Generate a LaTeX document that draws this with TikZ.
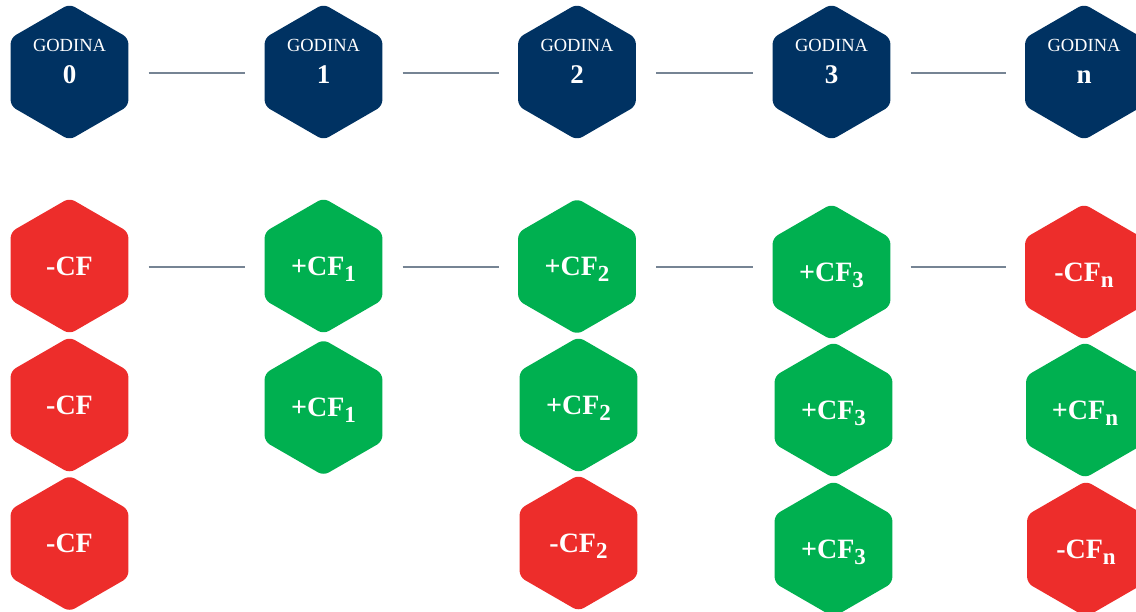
\documentclass[tikz,border=0pt]{standalone}
\usepackage{fontspec}
\setmainfont{Liberation Serif}
\usepackage{tikz}
\usetikzlibrary{shapes, positioning}
\definecolor{navy}{RGB}{0,50,98}
\definecolor{cfred}{RGB}{237,45,43}
\definecolor{cfgreen}{RGB}{0,176,80}
\definecolor{linkgray}{RGB}{118,132,148}
\tikzstyle{hexa} = [regular polygon, regular polygon sides=6, shape border rotate=30, minimum size=136pt,
                    inner sep=0, rounded corners=6pt, text=white]
\tikzstyle{year} = [hexa, fill=navy, align=center, font=\fontsize{18.5}{20}\selectfont, text depth=21pt]
\tikzstyle{inflow} = [hexa, fill=cfgreen, font=\fontsize{28}{30}\selectfont\bfseries]
\tikzstyle{outflow} = [hexa, fill=cfred, font=\fontsize{28}{30}\selectfont\bfseries]
\tikzstyle{link} = [draw=linkgray, line width=1.5pt, shorten <=20pt, shorten >=19pt]
\newcommand{\godina}[1]{GODINA\\[11.6pt]{\fontsize{27}{20}\selectfont\bfseries #1}}
\newcommand{\cfidx}[1]{\raisebox{-6pt}[0pt][0pt]{\fontsize{23}{23}\selectfont #1}}

\begin{document}
\begin{tikzpicture}[x=1pt, y=-1pt]
				\useasboundingbox (0, 0) rectangle (1136, 611);

				% years
				\node (Y0) [year] at (69.5, 72) {\godina{0}};
				\node (Y1) [year] at (323.5, 72) {\godina{1}};
				\node (Y2) [year] at (577, 72) {\godina{2}};
				\node (Y3) [year] at (831.5, 72) {\godina{3}};
				\node (Yn) [year] at (1084, 72) {\godina{n}};
				\coordinate (TopLine) at (0, 73);
				\draw [link] (Y0.east |- TopLine) -- (Y1.west |- TopLine);
				\draw [link] (Y1.east |- TopLine) -- (Y2.west |- TopLine);
				\draw [link] (Y2.east |- TopLine) -- (Y3.west |- TopLine);
				\draw [link] (Y3.east |- TopLine) -- (Yn.west |- TopLine);

				% cash flows, first row
				\node (A0) [outflow] at (69.5, 266) {-CF};
				\node (A1) [inflow] at (323.5, 266) {+CF\cfidx{1}};
				\node (A2) [inflow] at (577, 266.5) {+CF\cfidx{2}};
				\node (A3) [inflow] at (831.5, 272) {+CF\cfidx{3}};
				\node (An) [outflow] at (1084, 272) {-CF\cfidx{n}};
				\coordinate (FlowLine) at (0, 267);
				\draw [link] (A0.east |- FlowLine) -- (A1.west |- FlowLine);
				\draw [link] (A1.east |- FlowLine) -- (A2.west |- FlowLine);
				\draw [link] (A2.east |- FlowLine) -- (A3.west |- FlowLine);
				\draw [link] (A3.east |- FlowLine) -- (An.west |- FlowLine);

				% second row
				\node (B0) [outflow] at (69.5, 405) {-CF};
				\node (B1) [inflow] at (323.5, 407.5) {+CF\cfidx{1}};
				\node (B2) [inflow] at (578.5, 405) {+CF\cfidx{2}};
				\node (B3) [inflow] at (833.5, 410) {+CF\cfidx{3}};
				\node (Bn) [inflow] at (1085, 410) {+CF\cfidx{n}};

				% third row
				\node (C0) [outflow] at (69.5, 543.5) {-CF};
				\node (C2) [outflow] at (578.5, 543) {-CF\cfidx{2}};
				\node (C3) [inflow] at (833.5, 549) {+CF\cfidx{3}};
				\node (Cn) [outflow] at (1086, 549) {-CF\cfidx{n}};
			\end{tikzpicture}
\end{document}
